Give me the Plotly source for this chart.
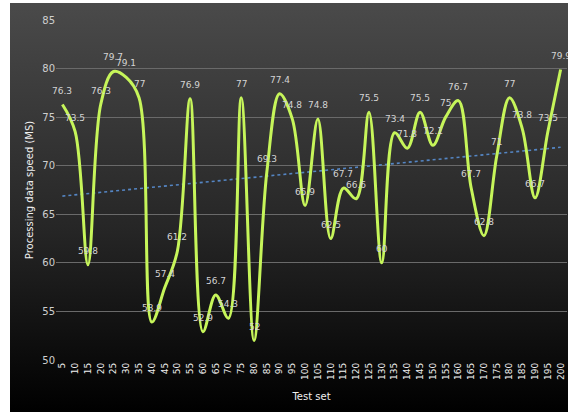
import base64
import numpy as np
import plotly.graph_objects as go

# Test sets (x categories) and measured processing speed
test_sets = [5, 10, 15, 20, 25, 30, 35, 40, 45, 50,
             55, 60, 65, 70, 75, 80, 85, 90, 95, 100,
             105, 110, 115, 120, 125, 130, 135, 140, 145, 150,
             155, 160, 165, 170, 175, 180, 185, 190, 195, 200]
speed = [76.3, 73.5, 59.8, 76.3, 79.7, 79.1, 77, 53.9, 57.4, 61.2,
         76.9, 52.9, 56.7, 54.3, 77, 52, 69.3, 77.4, 74.8, 65.9,
         74.8, 62.5, 67.7, 66.6, 75.5, 60, 73.4, 71.8, 75.5, 72.1,
         75, 76.7, 67.7, 62.8, 71, 77, 73.8, 66.7, 73.5, 79.9]
y_ticks = [50, 55, 60, 65, 70, 75, 80, 85]

# Linear trend line fitted to the series
idx = np.arange(len(speed))
slope, intercept = np.polyfit(idx, speed, 1)
trend = intercept + slope * idx

fig = go.Figure()
fig.add_trace(go.Scatter(
    x=test_sets, y=trend, mode="lines",
    line=dict(color="#5586c4", width=1.6, dash="dot"),
    hoverinfo="skip", showlegend=False,
))
fig.add_trace(go.Scatter(
    x=test_sets, y=speed, mode="lines",
    line=dict(color="#c6f55a", width=3, shape="spline", smoothing=1.0),
    showlegend=False,
))

# Value labels above each point
for xv, yv in zip(test_sets, speed):
    fig.add_annotation(
        x=xv, y=yv, text="%g" % yv, showarrow=False,
        yshift=14, xanchor="center", yanchor="middle",
        font=dict(family="DejaVu Sans", size=9, color="#d4d4d4"),
    )

# Dark vertical gradient behind the chart
svg = ('<svg xmlns="http://www.w3.org/2000/svg" width="100" height="100" '
       'preserveAspectRatio="none"><defs><linearGradient id="g" x1="0" y1="0" x2="0" y2="1">'
       '<stop offset="0" stop-color="#4a4a4a"/><stop offset="0.55" stop-color="#262626"/>'
       '<stop offset="1" stop-color="#000000"/></linearGradient></defs>'
       '<rect width="100" height="100" fill="url(#g)"/></svg>')
src = "data:image/svg+xml;base64," + base64.b64encode(svg.encode()).decode()

W, H = 568, 412
L, R, T, B = 56, 1, 20, 52
pw, ph = W - L - R, H - T - B
x0 = (10 - L) / pw
x1 = (W - L) / pw
y_top = (H - B - 3) / ph
y_bot = (H - B - H) / ph

fig.add_layout_image(dict(
    source=src, xref="paper", yref="paper",
    x=x0, y=y_top, sizex=x1 - x0, sizey=y_top - y_bot,
    xanchor="left", yanchor="top", sizing="stretch", layer="below",
))

fig.update_layout(
    width=W, height=H,
    margin=dict(l=L, r=R, t=T, b=B),
    paper_bgcolor="white",
    plot_bgcolor="rgba(0,0,0,0)",
    font=dict(family="DejaVu Sans", color="#e0e0e0"),
    xaxis=dict(
        range=[2.5, 202.5], tickmode="array", tickvals=test_sets,
        ticktext=[str(t) for t in test_sets], tickangle=-90,
        tickfont=dict(size=9, color="#f0f0f0"),
        showgrid=False, zeroline=False, showline=False, ticks="",
        title=dict(text="Test set", font=dict(size=10, color="#f0f0f0"), standoff=14),
    ),
    yaxis=dict(
        range=[50, 85], tickmode="array", tickvals=y_ticks,
        tickfont=dict(size=10, color="#cfcfcf"),
        showgrid=True, gridcolor="#6a6a6a", gridwidth=1,
        zeroline=False, showline=False, ticks="", ticklen=0,
        title=dict(text="Processing data speed (MS)", font=dict(size=10, color="#f0f0f0"), standoff=6),
    ),
)

fig.write_html("out.html")
